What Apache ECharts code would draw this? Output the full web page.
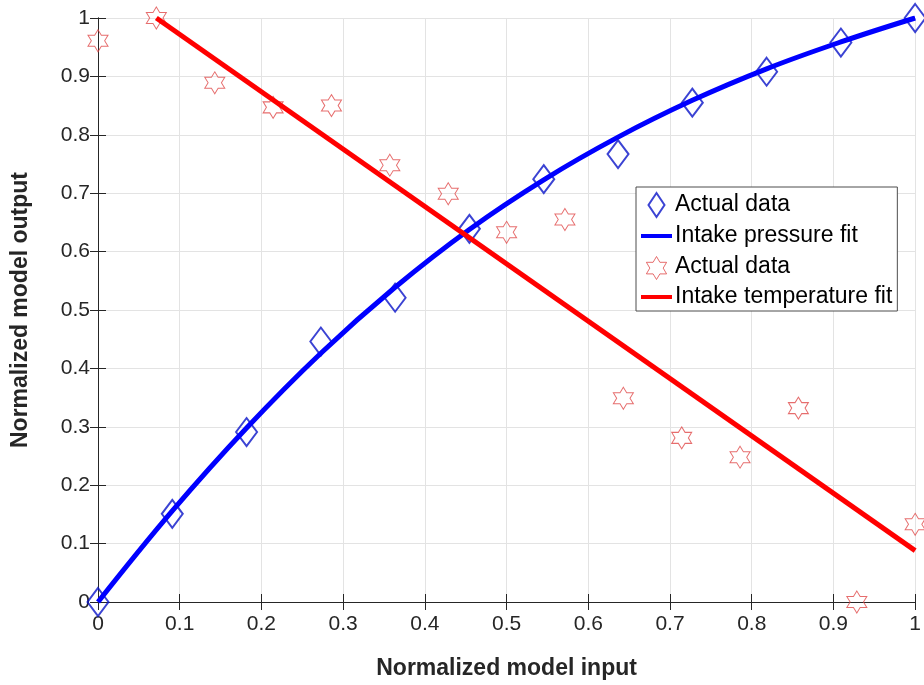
<!DOCTYPE html>
<html>
<head>
<meta charset="utf-8">
<title>Normalized model output</title>
<script src="https://cdn.jsdelivr.net/npm/echarts@6/dist/echarts.min.js"></script>
<style>
  html, body { margin: 0; padding: 0; background: #ffffff; }
  #chart { width: 924px; height: 685px; }
</style>
</head>
<body>
<div id="chart"></div>
<script>
// Measured intake pressure samples (x = k/11)
const pressureX = [0, 0.0909, 0.1818, 0.2727, 0.3636, 0.4545, 0.5455, 0.6364, 0.7273, 0.8182, 0.9091, 1];
const pressureY = [0, 0.151, 0.291, 0.446, 0.521, 0.639, 0.724, 0.767, 0.855, 0.908, 0.958, 1.0];
// Fitted pressure curve
const pressureFitY = [0, 0.156, 0.298, 0.426, 0.539, 0.638, 0.723, 0.796, 0.859, 0.913, 0.959, 1.0];

// Measured intake temperature samples (x = k/14)
const temperatureX = [0, 0.0714, 0.1429, 0.2143, 0.2857, 0.3571, 0.4286, 0.5, 0.5714, 0.6429, 0.7143, 0.7857, 0.8571, 0.9286, 1];
const temperatureY = [0.961, 1.0, 0.889, 0.847, 0.850, 0.748, 0.699, 0.633, 0.655, 0.349, 0.281, 0.248, 0.332, 0, 0.133];
// Linear temperature fit end points
const temperatureFitX = [0.0714, 1];
const temperatureFitY = [1.0, 0.088];

const axisTicks = [0, 0.1, 0.2, 0.3, 0.4, 0.5, 0.6, 0.7, 0.8, 0.9, 1];

const legendLabels = {
  pressureData: 'Actual data',
  pressureFit: 'Intake pressure fit',
  temperatureData: 'Actual data',
  temperatureFit: 'Intake temperature fit'
};

const zip = (xs, ys) => xs.map((x, i) => [x, ys[i]]);

// Six-pointed star outline
const hexagram = 'path://M50 0 L64.43 25 L93.3 25 L78.87 50 L93.3 75 L64.43 75 L50 100 L35.57 75 L6.7 75 L21.13 50 L6.7 25 L35.57 25 Z';
// Legend icons, padded to the 31x26 legend cell
const legendDiamond = 'path://M0 0 M31 26 M15.5 1 L23.5 13 L15.5 25 L7.5 13 Z';
const legendStar = 'path://M0 0 M31 26 M15.5 3 L18.9 8.8 L25.6 8.8 L22.2 14.6 L25.6 20.4 L18.9 20.4 L15.5 26 L12.1 20.4 L5.4 20.4 L8.8 14.6 L5.4 8.8 L12.1 8.8 Z';
const legendBar = 'path://M0 0 M31 26 M0 11 L31 11 L31 15 L0 15 Z';

const FONT = 'Liberation Sans, Arial, Helvetica, sans-serif';
const AXIS_COLOR = '#262626';
const fmt = v => String(Math.round(v * 10) / 10);

const chart = echarts.init(document.getElementById('chart'), null, { renderer: 'canvas' });

const baseAxis = {
  type: 'value',
  min: 0,
  max: 1,
  interval: 0.1,
  axisLine: { show: true, lineStyle: { color: AXIS_COLOR, width: 1 } },
  axisTick: { show: true, inside: true, length: 8, lineStyle: { color: AXIS_COLOR, width: 1 } }
};

chart.setOption({
  animation: false,
  backgroundColor: '#ffffff',
  textStyle: { fontFamily: FONT },
  grid: { left: 98, right: 5, top: 18, bottom: 79, containLabel: false },
  xAxis: [
    Object.assign({}, baseAxis, {
      position: 'bottom',
      name: 'Normalized model input',
      nameLocation: 'middle',
      nameGap: 55,
      nameTextStyle: { fontFamily: FONT, fontSize: 23, fontWeight: 'bold', color: '#262626' },
      axisLabel: { show: true, margin: 12, fontSize: 21, color: '#262626', fontFamily: FONT, formatter: fmt, showMaxLabel: true, showMinLabel: true },
      splitLine: { show: true, lineStyle: { color: '#e3e3e3', width: 1 } }
    }),
    Object.assign({}, baseAxis, {
      position: 'top',
      axisLabel: { show: false },
      splitLine: { show: false }
    })
  ],
  yAxis: [
    Object.assign({}, baseAxis, {
      position: 'left',
      name: 'Normalized model output',
      nameLocation: 'middle',
      nameGap: 66,
      nameTextStyle: { fontFamily: FONT, fontSize: 23, fontWeight: 'bold', color: '#262626' },
      axisLabel: { show: true, margin: 8, fontSize: 21, color: '#262626', fontFamily: FONT, formatter: fmt, showMaxLabel: true, showMinLabel: true },
      splitLine: { show: true, lineStyle: { color: '#e3e3e3', width: 1 } }
    }),
    Object.assign({}, baseAxis, {
      position: 'right',
      axisLabel: { show: false },
      splitLine: { show: false }
    })
  ],
  legend: {
    orient: 'vertical',
    left: 636,
    top: 187,
    padding: [4, 5, 1, 4],
    itemWidth: 31,
    itemHeight: 26,
    itemGap: 4,
    backgroundColor: '#ffffff',
    borderColor: '#4d4d4d',
    borderWidth: 1,
    selectedMode: false,
    textStyle: { fontFamily: FONT, fontSize: 23, color: '#000000', padding: [0, 0, 0, -2] },
    formatter: name => legendLabels[name],
    data: [
      { name: 'pressureData', icon: legendDiamond, itemStyle: { color: 'transparent', borderColor: '#0a14c8', borderWidth: 2 } },
      { name: 'pressureFit', icon: legendBar, itemStyle: { color: '#0000ff', borderWidth: 0 } },
      { name: 'temperatureData', icon: legendStar, itemStyle: { color: 'transparent', borderColor: '#e04848', borderWidth: 1 } },
      { name: 'temperatureFit', icon: legendBar, itemStyle: { color: '#ff0000', borderWidth: 0 } }
    ]
  },
  series: [
    {
      name: 'pressureData',
      type: 'scatter',
      data: zip(pressureX, pressureY),
      symbol: 'diamond',
      symbolSize: [21, 28],
      itemStyle: { color: 'transparent', borderColor: '#0a14c8', borderWidth: 2 },
      z: 3
    },
    {
      name: 'pressureFit',
      type: 'line',
      data: zip(pressureX, pressureFitY),
      smooth: 0.4,
      showSymbol: false,
      symbol: 'none',
      lineStyle: { color: '#0000ff', width: 5 },
      itemStyle: { color: '#0000ff' },
      z: 4
    },
    {
      name: 'temperatureData',
      type: 'scatter',
      data: zip(temperatureX, temperatureY),
      symbol: hexagram,
      symbolSize: [20, 22],
      itemStyle: { color: 'transparent', borderColor: '#e04848', borderWidth: 1 },
      z: 5
    },
    {
      name: 'temperatureFit',
      type: 'line',
      data: zip(temperatureFitX, temperatureFitY),
      showSymbol: false,
      symbol: 'none',
      lineStyle: { color: '#ff0000', width: 5 },
      itemStyle: { color: '#ff0000' },
      z: 6
    }
  ]
});
</script>
</body>
</html>
